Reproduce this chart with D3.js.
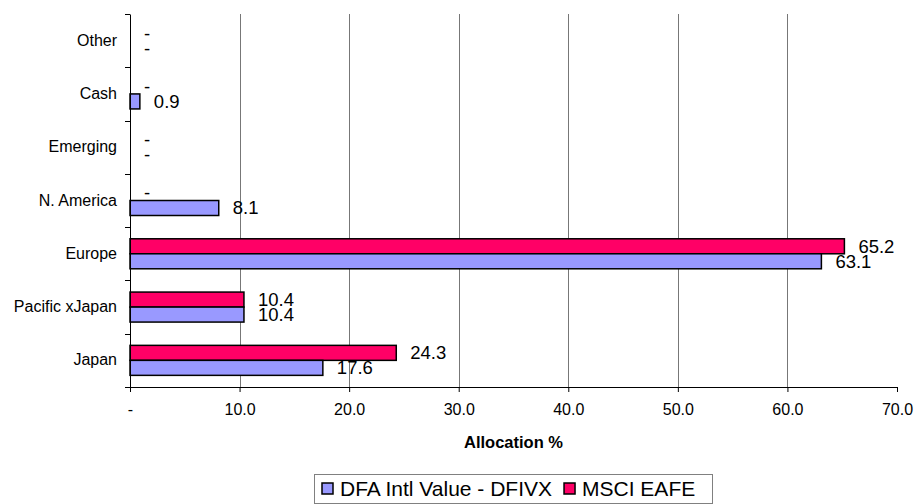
<!DOCTYPE html>
<html>
<head>
<meta charset="utf-8">
<script src="https://cdn.jsdelivr.net/npm/d3@7"></script>
<style>
  html, body { margin: 0; padding: 0; background: #fff; }
  svg { display: block; font-family: "Liberation Sans", Arial, sans-serif; }
</style>
</head>
<body>
<svg id="chart" width="914" height="504"></svg>
<script>
const categories = ["Other", "Cash", "Emerging", "N. America", "Europe", "Pacific xJapan", "Japan"];
const seriesNames = ["MSCI EAFE", "DFA Intl Value - DFIVX"];
const msciValues = [0, 0, 0, 0, 65.2, 10.4, 24.3];
const dfaValues  = [0, 0.9, 0, 8.1, 63.1, 10.4, 17.6];
const xTicks = [0, 10, 20, 30, 40, 50, 60, 70];
const legendOrder = ["DFA Intl Value - DFIVX", "MSCI EAFE"];
const colors = { "MSCI EAFE": "#FF0066", "DFA Intl Value - DFIVX": "#9999FF" };
const xTitle = "Allocation %";

const svg = d3.select("#chart");
const mLeft = 130, mRight = 897, mTop = 14, mBottom = 387;

const x = d3.scaleLinear().domain([0, 70]).range([mLeft, mRight]);
const y = d3.scaleBand().domain(categories).range([mTop, mBottom]).paddingInner(0).paddingOuter(0);
const inner = d3.scaleBand().domain(seriesNames).range([0, y.bandwidth()]).paddingInner(0).paddingOuter(0.776);

const fmt = v => v === 0 ? "-" : v.toFixed(1);

// gridlines
svg.append("g").selectAll("line").data(xTicks.filter(t => t > 0 && t < 70)).join("line")
  .attr("x1", d => Math.round(x(d)) + 0.5).attr("x2", d => Math.round(x(d)) + 0.5)
  .attr("y1", mTop).attr("y2", mBottom)
  .attr("stroke", "#777").attr("stroke-width", 1);

const rows = categories.map((c, i) => ({ cat: c, vals: [
  { s: "MSCI EAFE", v: msciValues[i] },
  { s: "DFA Intl Value - DFIVX", v: dfaValues[i] }
]}));

const g = svg.append("g");
rows.forEach(r => {
  r.vals.forEach(d => {
    const yy = y(r.cat) + inner(d.s);
    if (d.v > 0) {
      g.append("rect")
        .attr("x", x(0)).attr("y", yy)
        .attr("width", x(d.v) - x(0)).attr("height", inner.bandwidth())
        .attr("fill", colors[d.s]).attr("stroke", "#000").attr("stroke-width", 1.5);
    }
    g.append("text")
      .attr("x", x(d.v) + 14)
      .attr("y", yy + inner.bandwidth() / 2)
      .attr("dy", "0.35em")
      .attr("font-size", 18.5)
      .attr("fill", "#000")
      .text(fmt(d.v));
  });
});

// x axis
const xAxis = d3.axisBottom(x).tickValues(xTicks).tickFormat(fmt).tickSizeInner(5).tickSizeOuter(0).tickPadding(12);
const xg = svg.append("g").attr("transform", `translate(0,${mBottom})`).call(xAxis);
xg.select(".domain").attr("stroke", "#000");
xg.selectAll(".tick line").attr("stroke", "#000");
xg.selectAll("text").attr("font-size", 16).attr("font-family", "Liberation Sans, Arial, sans-serif").attr("fill", "#000");

// y axis
const yAxis = d3.axisLeft(y).tickSize(0).tickPadding(13);
const yg = svg.append("g").attr("transform", `translate(${mLeft},0)`).call(yAxis);
yg.select(".domain").attr("stroke", "#000");
yg.selectAll("text").attr("font-size", 16).attr("font-family", "Liberation Sans, Arial, sans-serif").attr("fill", "#000");
// boundary ticks
const bounds = categories.map(c => y(c)).concat([mBottom]);
svg.append("g").selectAll("line").data(bounds).join("line")
  .attr("x1", mLeft - 5).attr("x2", mLeft).attr("y1", d => Math.round(d) + 0.5).attr("y2", d => Math.round(d) + 0.5)
  .attr("stroke", "#000");

// axis title
svg.append("text").attr("x", (mLeft + mRight) / 2).attr("y", 442).attr("dy", "0.35em")
  .attr("text-anchor", "middle").attr("font-size", 16.5).attr("font-weight", "bold").text(xTitle);

// legend
const lg = svg.append("g");
lg.append("rect").attr("x", 314.5).attr("y", 474.5).attr("width", 398).attr("height", 29)
  .attr("fill", "#fff").attr("stroke", "#808080");
let lx = 322;
legendOrder.forEach(name => {
  lg.append("rect").attr("x", lx).attr("y", 483).attr("width", 11).attr("height", 11)
    .attr("fill", colors[name]).attr("stroke", "#000").attr("stroke-width", 1.5);
  const t = lg.append("text").attr("x", lx + 18).attr("y", 489).attr("dy", "0.35em")
    .attr("font-size", 21).text(name);
  lx += 18 + t.node().getComputedTextLength() + 12;
});
</script>
</body>
</html>
